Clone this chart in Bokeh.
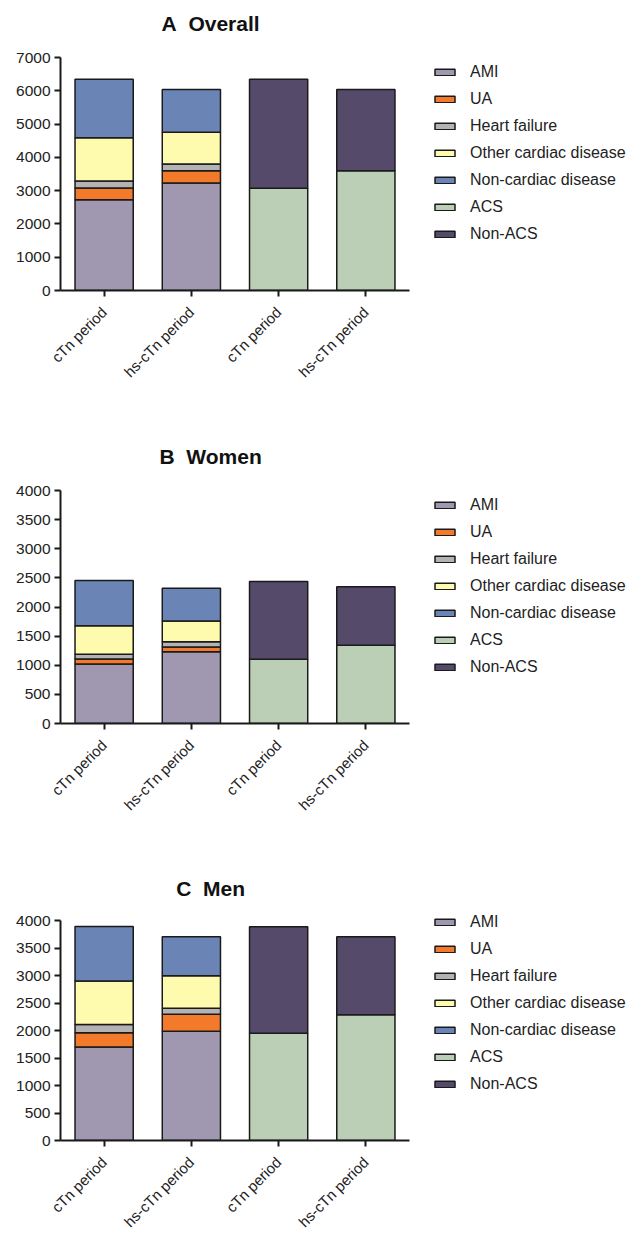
from bokeh.plotting import figure
from bokeh.layouts import column
from bokeh.models import (Range1d, FixedTicker, Legend, LegendItem,
                          Label, ColumnDataSource)
from bokeh.embed import file_html
from bokeh.resources import INLINE
import math

# ---------------- data ----------------
periods = ["cTn period", "hs-cTn period", "cTn period", "hs-cTn period"]
titles = ["A\u00a0\u00a0Overall", "B\u00a0\u00a0Women", "C\u00a0\u00a0Men"]
y_max = [7000, 4000, 4000]
y_step = [1000, 500, 500]

diag_names = ["AMI", "UA", "Heart failure", "Other cardiac disease", "Non-cardiac disease"]
acs_names = ["ACS", "Non-ACS"]

# Overall
a_ami = [2725, 3229]
a_ua = [353, 371]
a_hf = [211, 202]
a_other = [1298, 954]
a_noncard = [1759, 1279]
a_acs = [3070, 3600]
a_nonacs = [3276, 2435]

# Women
b_ami = [1021, 1233]
b_ua = [86, 81]
b_hf = [81, 91]
b_other = [492, 356]
b_noncard = [775, 563]
b_acs = [1102, 1343]
b_nonacs = [1336, 1004]

# Men
c_ami = [1701, 1989]
c_ua = [259, 310]
c_hf = [149, 109]
c_other = [793, 592]
c_noncard = [995, 707]
c_acs = [1953, 2288]
c_nonacs = [1938, 1419]

diag_colors = ["#A097B0", "#F27A2A", "#B3B3B3", "#FFFBAE", "#6A84B6"]
acs_colors = ["#BBCEB6", "#554A6A"]

panels = [
    (a_ami, a_ua, a_hf, a_other, a_noncard, a_acs, a_nonacs),
    (b_ami, b_ua, b_hf, b_other, b_noncard, b_acs, b_nonacs),
    (c_ami, c_ua, c_hf, c_other, c_noncard, c_acs, c_nonacs),
]

FONT = "Liberation Sans"
xpos = [i + 0.5 for i in range(len(periods))]

# layout geometry (pixels)
fig_w = 628
left = 60
unit_px = 87.25          # px per category slot
axis_px = 233            # px from 0 to y_max
fig_h = [441, 433, 365]
frame_h = [290, 282, 282]

figs = []
for idx, (ami, ua, hf, oth, nc, acs, nacs) in enumerate(panels):
    H = fig_h[idx]
    fh = frame_h[idx]
    ymax = y_max[idx]
    per_px = ymax / axis_px
    x_end = (fig_w - left) / unit_px
    p = figure(width=fig_w, height=H, output_backend="svg", toolbar_location=None,
               x_range=Range1d(0, x_end),
               y_range=Range1d(0, fh * per_px),
               min_border_left=left, min_border_right=0, min_border_top=0,
               min_border_bottom=H - fh)
    p.outline_line_color = None
    p.xgrid.visible = False
    p.ygrid.visible = False

    src1 = ColumnDataSource(dict(x=xpos[:2], AMI=ami, UA=ua, HF=hf, OTH=oth, NC=nc))
    r1 = p.vbar_stack(["AMI", "UA", "HF", "OTH", "NC"], x="x", width=0.667, source=src1,
                      fill_color=diag_colors, line_color="#1a1a1a", line_width=1.5)
    src2 = ColumnDataSource(dict(x=xpos[2:], ACS=acs, NACS=nacs))
    r2 = p.vbar_stack(["ACS", "NACS"], x="x", width=0.667, source=src2,
                      fill_color=acs_colors, line_color="#1a1a1a", line_width=1.5)

    items = [LegendItem(label=n, renderers=[r]) for n, r in zip(diag_names, r1)]
    items += [LegendItem(label=n, renderers=[r]) for n, r in zip(acs_names, r2)]
    leg = Legend(items=items, location=(372, 46), orientation="vertical",
                 border_line_color=None, background_fill_alpha=0,
                 padding=0, margin=0, spacing=6, label_height=21,
                 glyph_width=25, glyph_height=8, label_standoff=13,
                 label_text_font=FONT, label_text_font_size="16px",
                 label_text_color="#222222")
    p.add_layout(leg)

    # axes
    for ax in (p.xaxis[0], p.yaxis[0]):
        ax.axis_line_width = 2
        ax.axis_line_color = "#1a1a1a"
        ax.major_tick_line_width = 2
        ax.major_tick_line_color = "#1a1a1a"
        ax.major_tick_out = 6
        ax.major_tick_in = 0
        ax.minor_tick_line_color = None
        ax.major_label_text_font = FONT
        ax.major_label_text_font_size = "15px"
        ax.major_label_text_color = "#222222"
    p.yaxis.ticker = FixedTicker(ticks=list(range(0, ymax + 1, y_step[idx])))
    p.yaxis.bounds = (0, ymax)
    p.yaxis.major_label_standoff = 4
    p.yaxis.major_label_text_font_size = "15.5px"
    p.xaxis.bounds = (0, len(periods))
    p.xaxis.ticker = FixedTicker(ticks=xpos)
    p.xaxis.major_label_overrides = {x: lab for x, lab in zip(xpos, periods)}
    p.xaxis.major_label_orientation = math.pi / 4
    p.xaxis.major_label_standoff = 13

    # title
    p.add_layout(Label(x=1.72, y=ymax + 34 * per_px, text=titles[idx],
                       text_align="center", text_baseline="middle",
                       text_font=FONT, text_font_size="21px",
                       text_font_style="bold", text_color="#111111"))
    figs.append(p)

layout = column(*figs, spacing=0)
open("out.html", "w").write(file_html(layout, INLINE))
